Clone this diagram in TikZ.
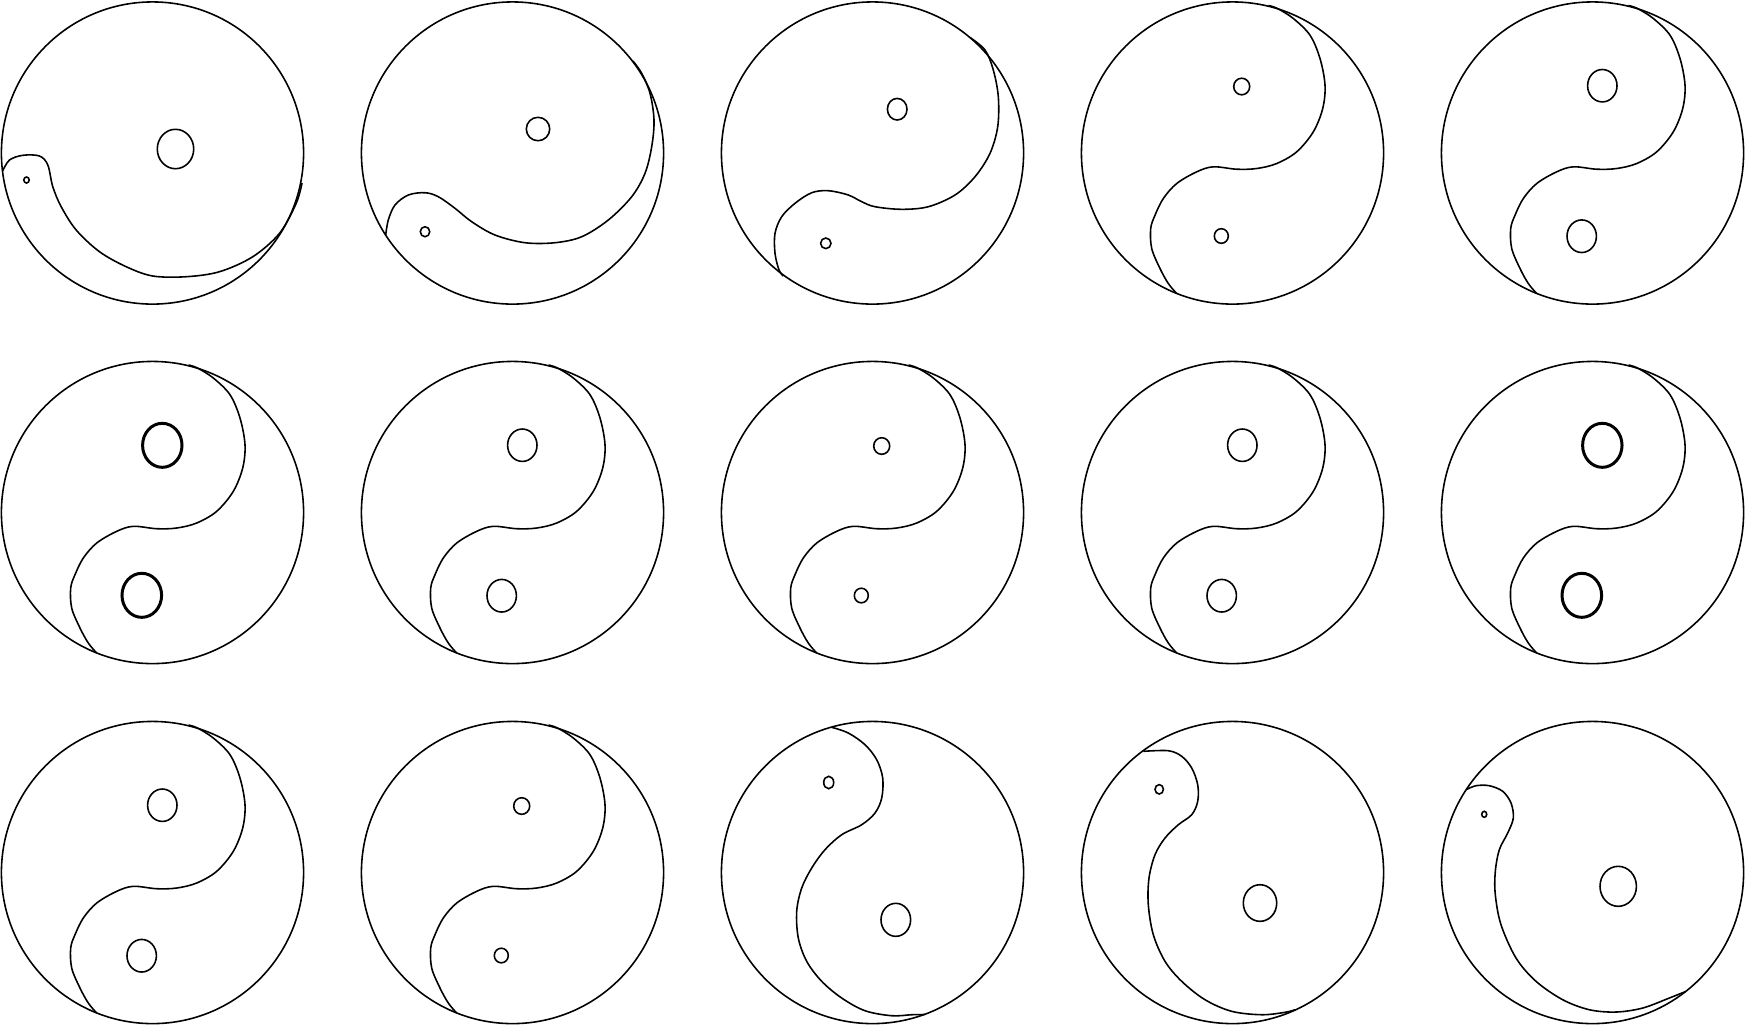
\documentclass[tikz,border=0pt]{standalone}
\begin{document}
\begin{tikzpicture}[x=0.01cm,y=-0.01cm,
  outer/.style={draw=black,line width=0.45pt},
  scurve/.style={draw=black,line width=0.45pt},
  eye/.style={draw=black,line width=0.45pt},
  boldeye/.style={draw=black,line width=0.85pt}]
\useasboundingbox (0,0) rectangle (1746,1026);
\def\midcurve{\draw[scurve] plot[smooth,tension=0.55] coordinates {(36,-147.5) (45,-144.5) (60.8,-134.5) (77.5,-117.8) (87.5,-94.5) (92.5,-67.8) (90.2,-44.5) (80.8,-21.2) (64.2,-1.2) (44.2,10.5) (24.2,15.5) (4.2,16.2) (-19.2,13.8) (-35.8,18.8) (-55.8,30.5) (-69.2,45.5) (-77.5,62.2) (-81.8,75.5) (-80.8,95.5) (-72.5,115.5) (-64.2,130.5) (-55.8,140.5)};}
\def\smalleyes{\draw[eye] (9.2,-66.5) ellipse [x radius=0.08cm,y radius=0.083cm];
  \draw[eye] (-11.2,83) ellipse [x radius=0.07cm,y radius=0.073cm];}
\def\medeyes{\draw[eye] (9.8,-67.3) ellipse [x radius=0.147cm,y radius=0.162cm];
  \draw[eye] (-10.8,83.2) ellipse [x radius=0.147cm,y radius=0.163cm];}
\def\bigeyes{\draw[boldeye] (9.8,-67.2) ellipse [x radius=0.197cm,y radius=0.22cm];
  \draw[boldeye] (-10.7,82.8) ellipse [x radius=0.198cm,y radius=0.22cm];}
% Row 1
\begin{scope}[shift={(152.5,153)}]
  \draw[outer] (0,0) circle [radius=1.51cm];
  \draw[scurve] plot[smooth,tension=0.55] coordinates {(-149.7,17.7) (-143,7) (-129.7,2.3) (-113,3) (-104.7,12) (-99.7,33.7) (-91.3,53.7) (-76.3,77) (-53,98.7) (-26.3,113.7) (0.3,123) (33.7,123.7) (67,118.7) (100.3,103.7) (127,80.3) (143.7,50.3) (149.5,30)};
  \draw[eye] (23,-4) ellipse [x radius=0.182cm,y radius=0.197cm];
  \draw[eye] (-126,27) ellipse [x radius=0.027cm,y radius=0.03cm];
\end{scope}
\begin{scope}[shift={(512.5,153)}]
  \draw[outer] (0,0) circle [radius=1.51cm];
  \draw[scurve] plot[smooth,tension=0.55] coordinates {(-126.8,82) (-124.2,67) (-117.5,52) (-104.2,42) (-87.5,39.7) (-74.2,43.7) (-57.5,55.3) (-40.8,68.7) (-17.5,82) (12.5,89.7) (42.5,89.7) (69.2,83.7) (95.8,67) (119.2,43.7) (132.5,20.3) (139.2,-6.3) (141.5,-33) (137.5,-59.7) (129.2,-79.7) (120.5,-92)};
  \draw[eye] (25.5,-24) ellipse [x radius=0.117cm,y radius=0.117cm];
  \draw[eye] (-87.5,78.7) ellipse [x radius=0.047cm,y radius=0.05cm];
\end{scope}
\begin{scope}[shift={(872.5,153)}]
  \draw[outer] (0,0) circle [radius=1.51cm];
  \draw[scurve] plot[smooth,tension=0.55] coordinates {(97.5,-115.5) (112.5,-103) (120.8,-83) (125.8,-56.3) (125.2,-26.3) (117.5,0.3) (102.5,23.7) (82.5,42) (55.8,53.7) (29.2,56.3) (2.5,53.7) (-10.8,48.7) (-24.2,42) (-44.2,37.7) (-60.8,39.7) (-77.5,50.3) (-90.8,63.7) (-97.5,80.3) (-97.5,100.3) (-93.5,117) (-89.2,123)};
  \draw[eye] (24.7,-43.8) ellipse [x radius=0.098cm,y radius=0.108cm];
  \draw[eye] (-46.7,90.3) ellipse [x radius=0.052cm,y radius=0.053cm];
\end{scope}
\begin{scope}[shift={(1232.5,153)}]
  \draw[outer] (0,0) circle [radius=1.51cm];
  \midcurve \smalleyes
\end{scope}
\begin{scope}[shift={(1592.5,153)}]
  \draw[outer] (0,0) circle [radius=1.51cm];
  \midcurve \medeyes
\end{scope}
% Row 2
\begin{scope}[shift={(152.5,512.5)}]
  \draw[outer] (0,0) circle [radius=1.51cm];
  \midcurve \bigeyes
\end{scope}
\begin{scope}[shift={(512.5,512.5)}]
  \draw[outer] (0,0) circle [radius=1.51cm];
  \midcurve \medeyes
\end{scope}
\begin{scope}[shift={(872.5,512.5)}]
  \draw[outer] (0,0) circle [radius=1.51cm];
  \midcurve \smalleyes
\end{scope}
\begin{scope}[shift={(1232.5,512.5)}]
  \draw[outer] (0,0) circle [radius=1.51cm];
  \midcurve \medeyes
\end{scope}
\begin{scope}[shift={(1592.5,512.5)}]
  \draw[outer] (0,0) circle [radius=1.51cm];
  \midcurve \bigeyes
\end{scope}
% Row 3
\begin{scope}[shift={(152.5,872.5)}]
  \draw[outer] (0,0) circle [radius=1.51cm];
  \midcurve \medeyes
\end{scope}
\begin{scope}[shift={(512.5,872.5)}]
  \draw[outer] (0,0) circle [radius=1.51cm];
  \midcurve \smalleyes
\end{scope}
\begin{scope}[shift={(872.5,872.5)}]
  \draw[outer] (0,0) circle [radius=1.51cm];
  \draw[scurve] plot[smooth,tension=0.55] coordinates {(-40.8,-145.2) (-24.2,-139.5) (-7.5,-127.8) (4.2,-112.8) (10.2,-94.5) (9.2,-74.5) (2.5,-59.5) (-10.8,-47.8) (-30.8,-37.8) (-47.5,-22.8) (-60.8,-4.5) (-70.8,15.5) (-75.8,38.8) (-74.2,65.5) (-65.8,88.8) (-50.8,108.8) (-30.8,125.5) (-7.5,138.2) (19.2,143.2) (39.2,142.2) (52,142)};
  \draw[eye] (-43.8,-90) ellipse [x radius=0.05cm,y radius=0.062cm];
  \draw[eye] (23.3,47.3) ellipse [x radius=0.148cm,y radius=0.165cm];
\end{scope}
\begin{scope}[shift={(1232.5,872.5)}]
  \draw[outer] (0,0) circle [radius=1.51cm];
  \draw[scurve] plot[smooth,tension=0.55] coordinates {(-89.2,-121.2) (-64.2,-121.8) (-50.8,-116.2) (-40.8,-104.5) (-34.8,-87.8) (-34.8,-71.2) (-40.8,-57.8) (-54.2,-47.8) (-67.5,-34.5) (-77.5,-17.8) (-83.5,5.5) (-84.2,32.2) (-79.2,62.2) (-67.5,88.8) (-50.8,108.8) (-27.5,127.2) (-0.8,138.8) (29.2,142.2) (52.5,139.8) (62.5,137.2)};
  \draw[eye] (-73.3,-83.2) ellipse [x radius=0.042cm,y radius=0.047cm];
  \draw[eye] (27.5,30.5) ellipse [x radius=0.167cm,y radius=0.183cm];
\end{scope}
\begin{scope}[shift={(1592.5,872.5)}]
  \draw[outer] (0,0) circle [radius=1.51cm];
  \draw[scurve] plot[smooth,tension=0.55] coordinates {(-126.5,-82.8) (-116.5,-86.8) (-103.2,-86.8) (-89.8,-81.2) (-81.5,-69.5) (-79.2,-54.5) (-84.8,-39.5) (-93.2,-22.8) (-97.2,-1.2) (-97.2,22.2) (-91.5,52.2) (-76.5,85.5) (-56.5,108.8) (-29.8,127.2) (-3.2,137.2) (23.5,139.5) (50.2,135.5) (76.8,125.5) (93,119)};
  \draw[eye] (-108.3,-58.2) ellipse [x radius=0.025cm,y radius=0.03cm];
  \draw[eye] (25.7,13.8) ellipse [x radius=0.182cm,y radius=0.2cm];
\end{scope}
\end{tikzpicture}
\end{document}
